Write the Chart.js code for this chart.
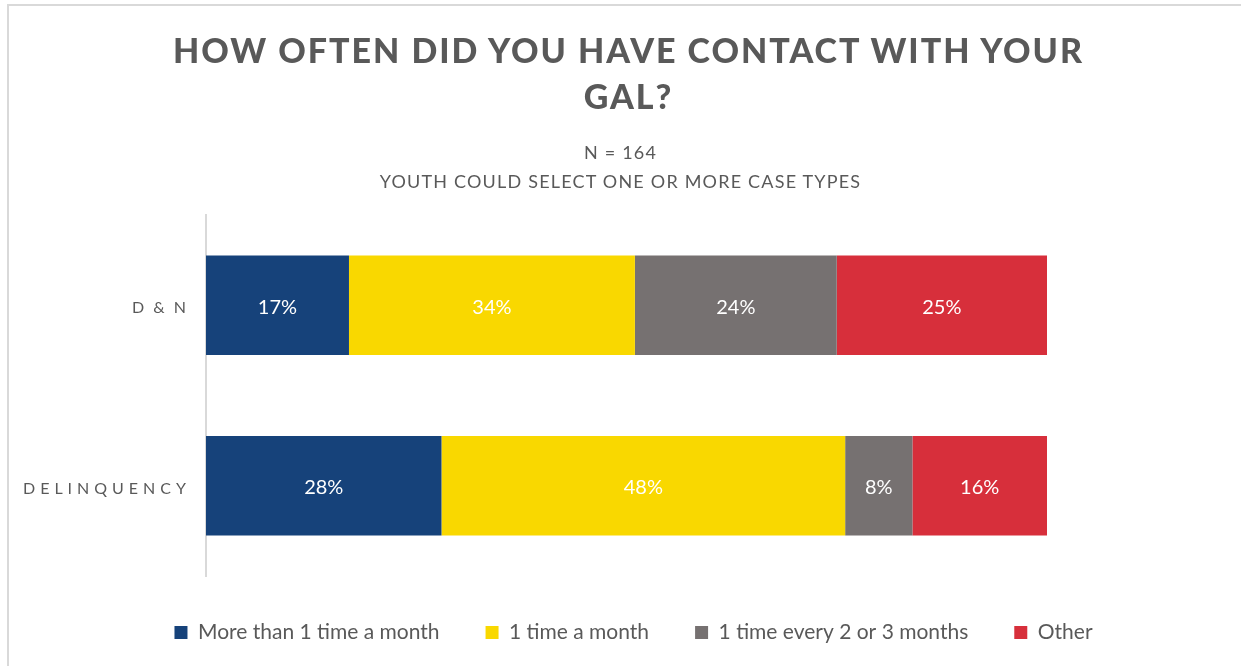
<!DOCTYPE html>
<html>
<head>
<meta charset="utf-8">
<title>GAL contact</title>
<script src="https://cdn.jsdelivr.net/npm/chart.js@4.4.1/dist/chart.umd.min.js"></script>
<style>
  body { margin: 0; background: #fff; }
  #wrap { position: relative; width: 1241px; height: 666px; font-family: Lato, "Open Sans", sans-serif; }
  #wrap canvas { position: absolute; left: 0; top: 0; }
  .ttl { position: absolute; left: 8px; width: 1241px; text-align: center; color: #595959; }
  #title { top: 27px; font-size: 34px; font-weight: 900; letter-spacing: 2px; line-height: 46px; }
  #sub { top: 138px; left: 0; font-size: 18px; letter-spacing: 1.2px; line-height: 29px; }
</style>
</head>
<body>
<div id="wrap">
  <canvas id="gal" width="1241" height="666"></canvas>
  <div class="ttl" id="title">HOW OFTEN DID YOU HAVE CONTACT WITH YOUR<br>GAL?</div>
  <div class="ttl" id="sub">N = 164<br>YOUTH COULD SELECT ONE OR MORE CASE TYPES</div>
</div>
<script>
// case types (rows) and answer series
var caseTypes = ['D & N', 'DELINQUENCY'];
var answers = ['More than 1 time a month', '1 time a month', '1 time every 2 or 3 months', 'Other'];

// percent of youth, one value per case type
var moreThanMonthly = [17, 28];
var monthly = [34, 48];
var every2or3 = [24, 8];
var other = [25, 16];

var colors = ['#16427A', '#F9D800', '#767171', '#D72F3B'];

var allValues = [moreThanMonthly, monthly, every2or3, other];

// frame, value labels and spaced out case type labels
var extras = {
  id: 'extras',
  beforeDraw: function(chart) {
    var ctx = chart.ctx;
    ctx.save();
    ctx.fillStyle = '#fff';
    ctx.fillRect(0, 0, chart.width, chart.height);
    ctx.strokeStyle = '#d9d9d9';
    ctx.lineWidth = 2;
    ctx.beginPath();
    ctx.moveTo(8, chart.height);
    ctx.lineTo(8, 5);
    ctx.lineTo(chart.width, 5);
    ctx.stroke();
    ctx.restore();
  },
  afterDatasetsDraw: function(chart) {
    var ctx = chart.ctx;
    ctx.save();
    ctx.font = '20px Lato';
    ctx.fillStyle = '#fff';
    ctx.textAlign = 'center';
    ctx.textBaseline = 'middle';
    chart.data.datasets.forEach(function(ds, i) {
      chart.getDatasetMeta(i).data.forEach(function(bar, j) {
        var p = bar.getProps(['x', 'y', 'base'], true);
        ctx.fillText(ds.data[j] + '%', (p.x + p.base) / 2, p.y + 2);
      });
    });
    ctx.restore();
  },
  afterDraw: function(chart) {
    var ctx = chart.ctx;
    var ys = chart.scales.y;
    ctx.save();
    ctx.font = '16px Lato';
    ctx.fillStyle = '#595959';
    ctx.textAlign = 'right';
    ctx.textBaseline = 'middle';
    ctx.letterSpacing = '5px';
    ctx.wordSpacing = '-5px';
    caseTypes.forEach(function(c, i) {
      ctx.fillText(c, 191, ys.getPixelForValue(i) + 3);
    });
    ctx.restore();
  }
};

new Chart(document.getElementById('gal'), {
  type: 'bar',
  data: {
    labels: caseTypes,
    datasets: answers.map(function(a, i) {
      return {
        label: a,
        data: allValues[i],
        backgroundColor: colors[i],
        borderWidth: 0,
        barPercentage: 0.55,
        categoryPercentage: 1
      };
    })
  },
  options: {
    indexAxis: 'y',
    responsive: false,
    animation: false,
    layout: { padding: { top: 215, left: 26, right: 0, bottom: 13 } },
    scales: {
      x: { stacked: true, min: 0, max: 100, display: false },
      y: {
        stacked: true,
        grid: { display: false },
        ticks: { display: false },
        border: { display: true, color: '#d9d9d9', width: 2 },
        afterFit: function(s) { s.width = 180; }
      },
      y2: {
        type: 'category',
        labels: caseTypes,
        position: 'right',
        grid: { display: false },
        ticks: { display: false },
        border: { display: false },
        afterFit: function(s) { s.width = 194; }
      }
    },
    plugins: {
      tooltip: { enabled: false },
      legend: {
        position: 'bottom',
        labels: {
          font: { family: 'Lato', size: 21 },
          color: '#595959',
          boxWidth: 13,
          boxHeight: 13,
          padding: 46
        }
      }
    }
  },
  plugins: [extras]
});
</script>
</body>
</html>
